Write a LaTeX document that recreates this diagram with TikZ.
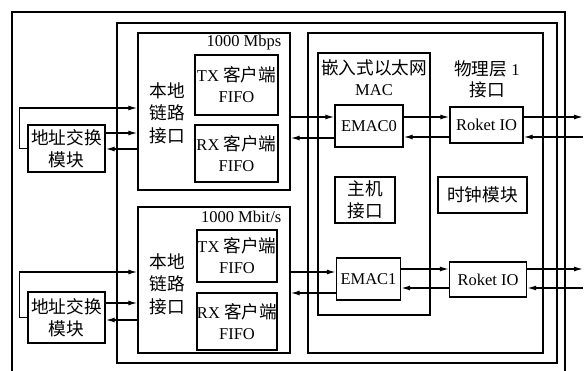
\documentclass[tikz,border=0pt]{standalone}
\usepackage{fontspec}
\setmainfont{Liberation Serif}
\newfontfamily\cjk[Scale=1.07]{Noto Sans CJK SC}
\usetikzlibrary{arrows.meta}

\begin{document}
\begin{tikzpicture}[x=1pt, y=-1pt, line width=1.35pt,
    font=\fontsize{16.5}{21}\selectfont,
    box/.style={rectangle, draw, inner sep=0pt, align=center},
    lbl/.style={inner sep=0pt, align=center},
    zh/.style={font=\fontsize{16.5}{22.5}\selectfont\cjk},
    sig/.style={-{Latex[length=9pt,width=5pt]}}]

    \useasboundingbox (0,0) rectangle (584,371);

    % Define frames
    \draw (12,371) -- (12,12) -- (565,12) -- (565,371);
    \node[box, minimum width=440pt, minimum height=340pt] (chip) at (337,193) {};
    \node[box, minimum width=235pt, minimum height=320pt] (core) at (425.5,193) {};
    \node[box, minimum width=112pt, minimum height=262pt] (mac) at (374,184) {};
    \node[lbl, anchor=north] (macname) at (374,59) {{\cjk 嵌入式以太网}\\MAC};
    \node[lbl] (phyname) at (487,79) {{\cjk 物理层} 1\\{\cjk 接口}};

    % Define MAC and physical layer blocks
    \node[box, minimum width=68pt, minimum height=42pt] (emac0) at (369,126) {EMAC0};
    \node[box, minimum width=64pt, minimum height=42pt] (emac1) at (368.5,279) {EMAC1};
    \node[box, zh, minimum width=60pt, minimum height=46pt] (host) at (365,200) {主机\\接口};
    \node[box, minimum width=73pt, minimum height=36pt] (rio0) at (486.5,125) {Roket IO};
    \node[box, minimum width=77pt, minimum height=35pt] (rio1) at (488,279.5) {Roket IO};
    \node[box, zh, minimum width=89pt, minimum height=36pt] (clk) at (482.5,195) {时钟模块};

    % Define local link interfaces
    \node[box, minimum width=152pt, minimum height=157pt] (link0) at (214,111.5) {};
    \node[lbl, anchor=east] (rate0) at (282,43) {1000 Mbps};
    \node[lbl, zh] (llname0) at (167,113) {本地\\链路\\接口};
    \node[box, minimum width=83pt, minimum height=60pt] (tx0) at (236.5,85) {TX {\cjk 客户端}\\FIFO};
    \node[box, minimum width=83pt, minimum height=57pt] (rx0) at (236.5,153.5) {RX {\cjk 客户端}\\FIFO};
    \node[box, minimum width=152pt, minimum height=146pt] (link1) at (214,280) {};
    \node[lbl, anchor=east] (rate1) at (282,217) {1000 Mbit/s};
    \node[lbl, zh] (llname1) at (167,284) {本地\\链路\\接口};
    \node[box, minimum width=80pt, minimum height=52pt] (tx1) at (237,256) {TX {\cjk 客户端}\\FIFO};
    \node[box, minimum width=80pt, minimum height=57pt] (rx1) at (237,321.5) {RX {\cjk 客户端}\\FIFO};

    % Define address swap modules
    \node[box, zh, minimum width=77pt, minimum height=47pt] (addr0) at (66.5,148.5) {地址交换\\模块};
    \node[box, zh, minimum width=77pt, minimum height=51pt] (addr1) at (66.5,317.5) {地址交换\\模块};

    % Free ends on the right
    \coordinate (out0) at (583,117);
    \coordinate (in0) at (583,137);
    \coordinate (out1) at (583,269);
    \coordinate (in1) at (583,288);

    % Draw signals of port 0
    \draw[sig] (addr0.west) -- ++(-8,0) |- (link0.west |- 0,108);
    \draw[sig] (addr0.east |- 0,133) -- (link0.west |- 0,133);
    \draw[sig] (link0.west |- 0,149) -- (addr0.east |- 0,149);
    \draw[sig] (link0.east |- 0,117) -- (emac0.west |- 0,117);
    \draw[sig] (emac0.west |- 0,138) -- (link0.east |- 0,138);
    \draw[sig] (emac0.east |- 0,117) -- (rio0.west |- 0,117);
    \draw[sig] (rio0.west |- 0,137) -- (emac0.east |- 0,137);
    \draw[sig] (rio0.east |- 0,117) -- (out0);
    \draw[sig] (in0) -- (rio0.east |- 0,137);

    % Draw signals of port 1
    \draw[sig] (addr1.west) -- ++(-8,0) |- (link1.west |- 0,272);
    \draw[sig] (addr1.east |- 0,303) -- (link1.west |- 0,303);
    \draw[sig] (link1.west |- 0,320) -- (addr1.east |- 0,320);
    \draw[sig] (link1.east |- 0,272) -- (emac1.west |- 0,272);
    \draw[sig] (emac1.west |- 0,293) -- (link1.east |- 0,293);
    \draw[sig] (emac1.east |- 0,269) -- (rio1.west |- 0,269);
    \draw[sig] (rio1.west |- 0,288) -- (emac1.east |- 0,288);
    \draw[sig] (rio1.east |- 0,269) -- (out1);
    \draw[sig] (in1) -- (rio1.east |- 0,288);
\end{tikzpicture}
\end{document}
